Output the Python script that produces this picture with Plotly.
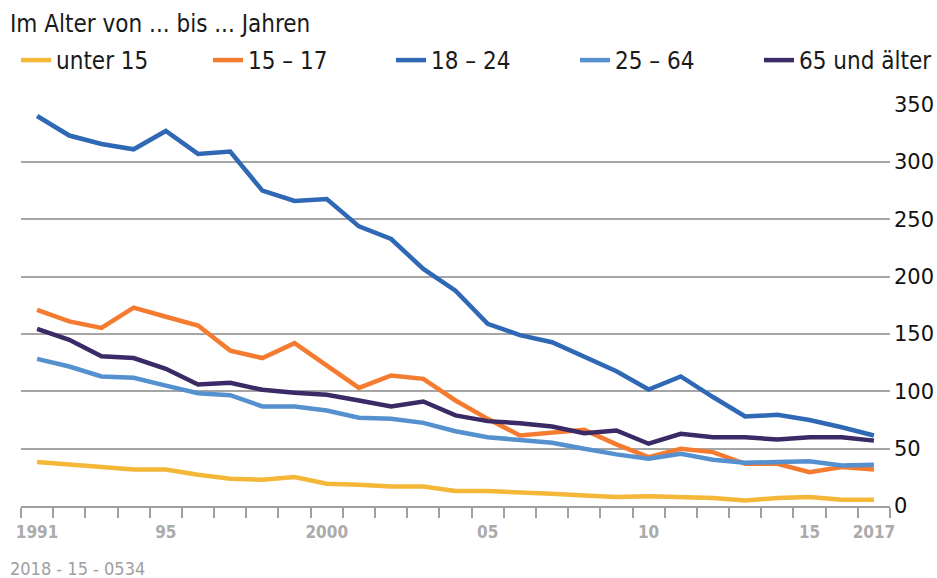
import plotly.graph_objects as go

years = list(range(1991, 2018))

unter_15 = [38.3, 36, 33.9, 31.9, 31.9, 27.2, 23.8, 22.9, 25.2, 19.4, 18.5, 17, 17, 13,
            13, 12.1, 10.7, 9.2, 7.8, 8.6, 7.8, 6.9, 4.9, 6.9, 7.8, 5.5, 5.5]
a15_17 = [171, 161, 155.3, 173, 165, 157.3, 135.5, 129, 142, 122.5, 103, 113.8, 110.9, 92,
          76, 61.5, 64.4, 66.4, 53.7, 42.6, 49.9, 47, 36.8, 36.8, 29.5, 33.9, 31.9]
a18_24 = [340, 323, 315.6, 311, 327, 307, 309, 275, 266, 267.7, 243.8, 232.8, 206.7, 187.8,
          158.8, 149, 142.8, 130, 117.5, 101.6, 113, 95, 78, 79.5, 75, 68.7, 61.5]
a25_64 = [128.3, 121.6, 112.9, 111.8, 105, 98.3, 96.6, 86.8, 86.8, 83.3, 76.9, 76, 72.5, 65.2,
          60, 57.7, 55.1, 49.9, 45, 41.2, 45.5, 40.3, 37.7, 38.3, 39.1, 35.4, 36]
a65_plus = [154.4, 144.9, 130.6, 129, 119.6, 105.9, 107.4, 101.3, 98.7, 97, 92, 86.8, 91.1, 79,
            74, 72.2, 69.3, 63.5, 65.9, 54.3, 63, 60, 60, 58, 60, 60, 57]

series_names = ["unter 15", "15 – 17", "18 – 24", "25 – 64", "65 und älter"]
series_values = [unter_15, a15_17, a18_24, a25_64, a65_plus]
series_colors = ["#F4B738", "#F47B30", "#2F68B4", "#5590CF", "#3A2A66"]

x_tick_vals = [1991, 1995, 2000, 2005, 2010, 2015, 2017]
x_tick_text = ["1991", "95", "2000", "05", "10", "15", "2017"]
y_tick_vals = [0, 50, 100, 150, 200, 250, 300, 350]

narrow = "DejaVu Sans Condensed, Liberation Sans Narrow, sans-serif"

W, H = 937, 578
M_L, M_R, M_T, M_B = 21, 47, 104, 72
plot_h = H - M_T - M_B
plot_w = W - M_L - M_R

legend_names = ["legend", "legend2", "legend3", "legend4", "legend5"]
legend_x_px = [16, 208, 391, 575, 759]

fig = go.Figure()
for name, vals, col, lg in zip(series_names, series_values, series_colors, legend_names):
    fig.add_trace(go.Scatter(x=years, y=vals, name=name, mode="lines",
                             line=dict(color=col, width=4.5), legend=lg))

legend_layout = {}
for lg, lx in zip(legend_names, legend_x_px):
    legend_layout[lg] = dict(orientation="h", xref="container", yref="container",
                             x=lx / W, y=1 - 38 / H, xanchor="left", yanchor="top",
                             bgcolor="rgba(0,0,0,0)",
                             font=dict(family=narrow, size=24, color="#1a1a1a"),
                             itemwidth=30)

fig.update_layout(
    width=W, height=H,
    margin=dict(l=M_L, r=M_R, t=M_T, b=M_B, autoexpand=False),
    plot_bgcolor="white", paper_bgcolor="white",
    showlegend=True,
    xaxis=dict(range=[1990.5, 2017.5], tickmode="array", tickvals=x_tick_vals,
               ticktext=x_tick_text, ticks="", showgrid=False, zeroline=False,
               showline=True, linecolor="#A0A0A0", linewidth=2,
               tickfont=dict(family=narrow, size=17, color="#ABABAB", weight="bold"),
               ticklabelstandoff=10,
               minor=dict(tickmode="linear", tick0=1990.5, dtick=1, ticks="outside",
                          ticklen=10, tickwidth=2, tickcolor="#A0A0A0", showgrid=False)),
    yaxis=dict(range=[0, 350.5], side="right", tickvals=y_tick_vals, showgrid=True,
               gridcolor="#A6A6A6", gridwidth=1.5, zeroline=False, ticks="",
               tickfont=dict(family="DejaVu Sans", size=21, color="#111111"),
               ticklabelstandoff=3, ticklabeloverflow="allow"),
    annotations=[
        dict(text="Im Alter von ... bis ... Jahren", xref="paper", yref="paper",
             x=-(M_L - 8) / plot_w, y=1 + (M_T - 24) / plot_h, xanchor="left", yanchor="middle",
             showarrow=False, font=dict(family=narrow, size=24, color="#1a1a1a")),
        dict(text="2018 - 15 - 0534", xref="paper", yref="paper",
             x=-(M_L - 8) / plot_w, y=-(568 - (H - M_B)) / plot_h, xanchor="left", yanchor="middle",
             showarrow=False, font=dict(family=narrow, size=18, color="#A0A0A0")),
    ],
    **legend_layout,
)

# remove the default 8px page margin so the figure fills the window exactly
fig.write_html("out.html",
               config={"displayModeBar": False},
               post_script="document.body.style.margin='0';document.body.style.overflow='hidden';")
